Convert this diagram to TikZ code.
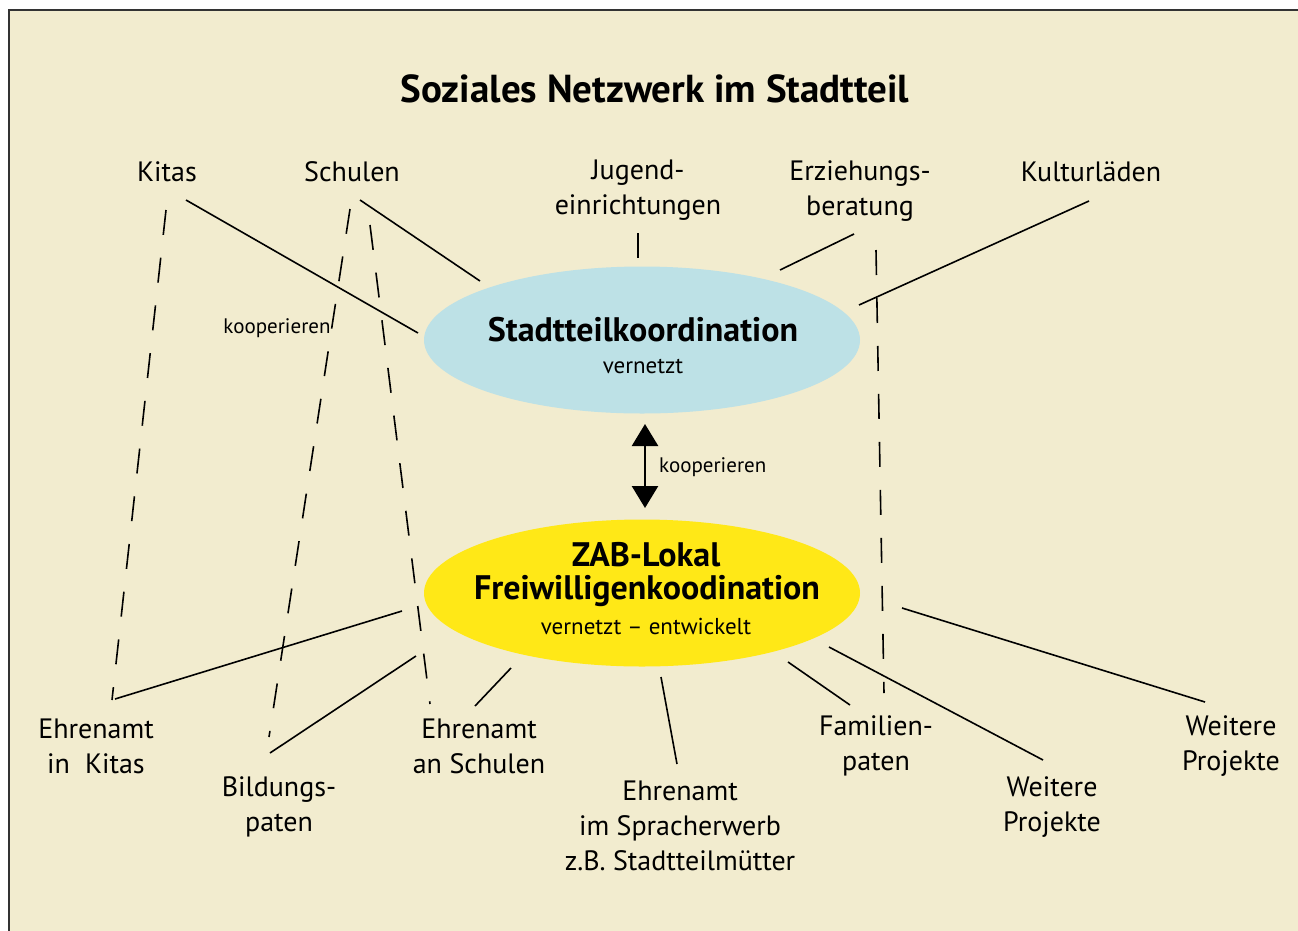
\documentclass[tikz,border=0pt]{standalone}
\usepackage{fontspec}
\setmainfont{PT Sans}
\usetikzlibrary{arrows.meta,shapes.geometric}
\definecolor{bgcream}{HTML}{F2ECCF}
\definecolor{ellblue}{HTML}{BDE1E6}
\definecolor{ellyellow}{HTML}{FFE817}
\tikzset{
  lbl/.style={align=center,inner sep=0pt,font=\fontsize{28}{35}\selectfont},
  bigbold/.style={inner sep=0pt,font=\bfseries\fontsize{34}{40}\selectfont},
  subtxt/.style={inner sep=0pt,font=\fontsize{23}{27}\selectfont},
  conn/.style={line width=1.6pt,black},
  dconn/.style={line width=1.6pt,black,dash pattern=on 25pt off 23pt},
  ell/.style={ellipse,inner sep=0pt,draw=none,minimum width=436pt,minimum height=147pt},
}
\begin{document}
\begin{tikzpicture}[x=1pt,y=-1pt]
\useasboundingbox (0,0) rectangle (1298,930);
\fill[white] (0,0) rectangle (1298,930);
\fill[bgcream] (9,10) rectangle (1310,940);
\draw[line width=2pt,black!80] (9,940) -- (9,10) -- (1310,10);

\node[inner sep=0pt,font=\bfseries\fontsize{39}{44}\selectfont] (title) at (655,89) {Soziales Netzwerk im Stadtteil};

% top labels
\node[lbl] (kitas) at (167,172) {Kitas};
\node[lbl] (schulen) at (352,172) {Schulen};
\node[lbl] (jugend) at (638,190) {Jugend-\\einrichtungen};
\node[lbl] (erz) at (860,191) {Erziehungs-\\beratung};
\node[lbl] (kultur) at (1091,172) {Kulturläden};

% ellipses
\node[ell,fill=ellblue] (stk) at (642,340) {};
\node[bigbold] (stkt) at (643,330) {Stadtteilkoordination};
\node[subtxt] (stks) at (643,366) {vernetzt};
\node[ell,fill=ellyellow] (zab) at (642,593) {};
\node[bigbold] (zab1) at (646,555) {ZAB-Lokal};
\node[bigbold] (zab2) at (647,591) {Freiwilligenkoodination};
\node[subtxt] (zab3) at (646,626) {vernetzt -- entwickelt};

% double arrow
\coordinate (arrTop) at (645,424);
\coordinate (arrBot) at (645,508);
\draw[line width=2.5pt,{Triangle[width=26pt,length=22pt]}-{Triangle[width=26pt,length=22pt]}] (arrTop) -- (arrBot);
\node[inner sep=0pt,anchor=west,font=\fontsize{21}{25}\selectfont] (koop1) at (659,467) {kooperieren};
\node[inner sep=0pt,font=\fontsize{21}{25}\selectfont] (koop2) at (277,328) {kooperieren};

% bottom labels
\node[lbl] (ekitas) at (96,746) {Ehrenamt\\in\ \ Kitas};
\node[lbl] (bild) at (279,807) {Bildungs-\\paten};
\node[lbl] (eschul) at (479,746) {Ehrenamt\\an Schulen};
\node[lbl] (esprach) at (680,826) {Ehrenamt\\im Spracherwerb\\z.B. Stadtteilmütter};
\node[lbl] (fam) at (876,746) {Familien-\\paten};
\node[lbl] (wp1) at (1052,807) {Weitere\\Projekte};
\node[lbl] (wp2) at (1231,746) {Weitere\\Projekte};

% endpoints
\coordinate (a1) at (186,200); \coordinate (a2) at (418,333);
\coordinate (b1) at (360,200); \coordinate (b2) at (480,281);
\coordinate (c1) at (638,233); \coordinate (c2) at (638,258);
\coordinate (d1) at (854,234); \coordinate (d2) at (780,270);
\coordinate (e1) at (1089,201); \coordinate (e2) at (859,305);
\coordinate (f1) at (402,611); \coordinate (f2) at (115,699);
\coordinate (g1) at (416,656); \coordinate (g2) at (270,753);
\coordinate (h1) at (511,668); \coordinate (h2) at (475,706);
\coordinate (i1) at (661,677); \coordinate (i2) at (677,764);
\coordinate (j1) at (788,662); \coordinate (j2) at (850,705);
\coordinate (k1) at (829,647); \coordinate (k2) at (1043,760);
\coordinate (l1) at (902,608); \coordinate (l2) at (1205,702);

\draw[conn] (a1) -- (a2);
\draw[conn] (b1) -- (b2);
\draw[conn] (c1) -- (c2);
\draw[conn] (d1) -- (d2);
\draw[conn] (e1) -- (e2);
\draw[conn] (f1) -- (f2);
\draw[conn] (g1) -- (g2);
\draw[conn] (h1) -- (h2);
\draw[conn] (i1) -- (i2);
\draw[conn] (j1) -- (j2);
\draw[conn] (k1) -- (k2);
\draw[conn] (l1) -- (l2);

% dashed links
\coordinate (m1) at (166,210); \coordinate (m2) at (112,700);
\coordinate (n1) at (350,209); \coordinate (n2) at (269,737);
\coordinate (o1) at (370,225); \coordinate (o2) at (430,704);
\coordinate (p1) at (876,250); \coordinate (p2) at (884,693);
\draw[dconn] (m1) -- (m2);
\draw[dconn] (n1) -- (n2);
\draw[dconn] (o1) -- (o2);
\draw[dconn] (p1) -- (p2);
\end{tikzpicture}
\end{document}
